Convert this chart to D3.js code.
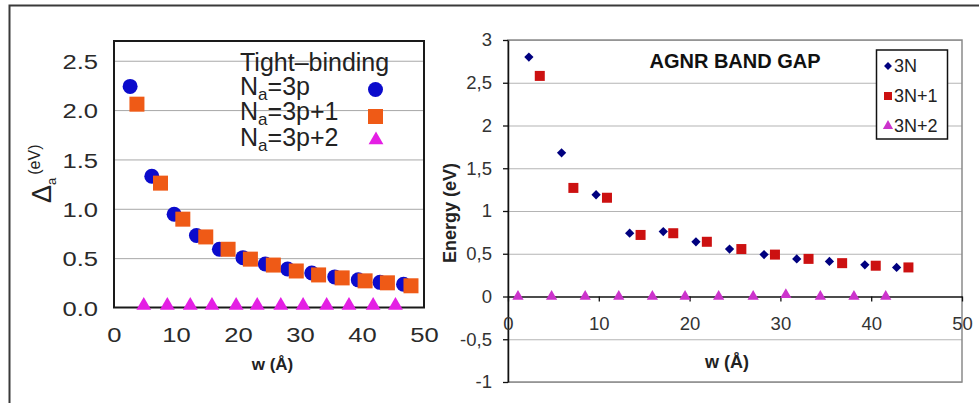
<!DOCTYPE html>
<html>
<head>
<meta charset="utf-8">
<script src="https://cdn.jsdelivr.net/npm/d3@7/dist/d3.min.js"></script>
<style>
  html, body { margin: 0; padding: 0; background: #fff; }
  svg { display: block; font-family: "Liberation Sans", Arial, Helvetica, sans-serif; }
</style>
</head>
<body>
<svg id="chart" width="979" height="403"></svg>
<script>
// ---- Tight-binding band gap (left panel) ----
const wTB3p   = [2.6, 6.1, 9.7, 13.3, 17.0, 20.8, 24.4, 28.0, 31.9, 35.6, 39.4, 42.9, 46.7];
const gapTB3p = [2.24, 1.33, 0.945, 0.73, 0.59, 0.505, 0.44, 0.39, 0.35, 0.31, 0.28, 0.255, 0.235];
const wTB3p1   = [3.7, 7.5, 11.1, 14.8, 18.4, 22.0, 25.7, 29.4, 33.0, 36.8, 40.5, 44.1, 47.9];
const gapTB3p1 = [2.06, 1.26, 0.895, 0.715, 0.59, 0.49, 0.43, 0.37, 0.33, 0.30, 0.27, 0.25, 0.22];
const wTB3p2   = [4.8, 8.6, 12.3, 15.8, 19.7, 23.1, 26.9, 30.5, 34.3, 37.9, 41.8, 45.4];
const gapTB3p2 = [0, 0, 0, 0, 0, 0, 0, 0, 0, 0, 0, 0];
const leftYTicks = [0, 0.5, 1.0, 1.5, 2.0, 2.5];
const leftXTicks = [0, 10, 20, 30, 40, 50];

// ---- AGNR band gap (right panel) ----
const w3N  = [2.3, 5.9, 9.7, 13.4, 17.1, 20.7, 24.4, 28.2, 31.8, 35.4, 39.3, 42.8];
const E3N  = [2.80, 1.68, 1.19, 0.74, 0.76, 0.64, 0.555, 0.49, 0.44, 0.41, 0.37, 0.34];
const w3N1 = [3.5, 7.2, 10.9, 14.6, 18.2, 21.9, 25.7, 29.4, 33.1, 36.8, 40.5, 44.1];
const E3N1 = [2.58, 1.27, 1.155, 0.72, 0.74, 0.64, 0.555, 0.49, 0.44, 0.39, 0.36, 0.34];
const w3N2 = [1.1, 4.8, 8.5, 12.2, 15.9, 19.5, 23.2, 27.0, 30.6, 34.4, 38.1, 41.6];
const E3N2 = [0, 0, 0, 0, 0, 0, 0, 0, 0.02, 0, 0, 0];
const rightYTicks = [-1, -0.5, 0, 0.5, 1, 1.5, 2, 2.5, 3];
const rightXTicks = [0, 10, 20, 30, 40, 50];

const svg = d3.select("#chart");
const zip = (xs, ys) => xs.map((x, i) => [x, ys[i]]);
const WIDE = 1.22; // horizontal stretch of the left panel's tick digits

// outer frame (left and top edges)
svg.append("path").attr("d", "M9.5,403 V5.5 H979")
  .attr("fill", "none").attr("stroke", "#3a3a3a").attr("stroke-width", 2);

// ===================== LEFT PANEL =====================
const L = { x0: 114, x1: 424, y0: 307.5, y1: 41 };
const xL = d3.scaleLinear().domain([0, 50]).range([L.x0, L.x1]);
const yL = d3.scaleLinear().domain([0, 2.7]).range([L.y0, L.y1]);
const gL = svg.append("g");

// horizontal grid
gL.append("g")
  .attr("transform", `translate(${L.x0},0)`)
  .call(d3.axisLeft(yL).tickValues(leftYTicks.filter(v => v > 0)).tickSize(-(L.x1 - L.x0)).tickFormat(""))
  .call(g => g.select(".domain").remove())
  .call(g => g.selectAll("line").attr("stroke", "#a8a8a8").attr("stroke-width", 1));

// tick labels
gL.append("g")
  .attr("transform", `translate(${L.x0},0)`)
  .call(d3.axisLeft(yL).tickValues(leftYTicks).tickSize(0).tickPadding(0).tickFormat(d3.format(".1f")))
  .call(g => g.select(".domain").remove())
  .call(g => g.selectAll("text")
    .attr("x", -16 / WIDE).attr("dy", "0.36em")
    .attr("transform", `scale(${WIDE},1)`)
    .attr("fill", "#2a2a2a").style("font-size", "21px"));

gL.append("g")
  .attr("transform", `translate(0,${L.y0})`)
  .call(d3.axisBottom(xL).tickValues(leftXTicks).tickSize(0).tickPadding(0).tickFormat(d3.format("d")))
  .call(g => g.select(".domain").remove())
  .call(g => g.selectAll("text")
    .attr("y", 35).attr("dy", 0)
    .attr("transform", `scale(${WIDE},1)`)
    .attr("fill", "#2a2a2a").style("font-size", "21px"));

// frame
gL.append("rect")
  .attr("x", L.x0).attr("y", L.y1).attr("width", L.x1 - L.x0).attr("height", L.y0 - L.y1)
  .attr("fill", "none").attr("stroke", "#1a1a1a").attr("stroke-width", 2);

// data
const blueL = "#0b0bcc", orangeL = "#ef5a16", magL = "#e41fe4";
gL.append("g").selectAll("circle").data(zip(wTB3p, gapTB3p)).join("circle")
  .attr("cx", d => xL(d[0])).attr("cy", d => yL(d[1])).attr("r", 7.5).attr("fill", blueL);
gL.append("g").selectAll("rect").data(zip(wTB3p1, gapTB3p1)).join("rect")
  .attr("x", d => xL(d[0]) - 7.5).attr("y", d => yL(d[1]) - 7.5)
  .attr("width", 15).attr("height", 15).attr("fill", orangeL);
const triL = d3.symbol().type(d3.symbolTriangle).size(95);
gL.append("g").selectAll("path").data(zip(wTB3p2, gapTB3p2)).join("path")
  .attr("transform", d => `translate(${xL(d[0])},${yL(d[1]) - 2})`)
  .attr("d", triL).attr("fill", magL);

// legend
const legL = gL.append("g").attr("fill", "#222").style("font-size", "25px");
legL.append("text").attr("x", 240).attr("y", 71).text("Tight\u2013binding");
const legRows = [
  { y: 95, label: "=3p" },
  { y: 120, label: "=3p+1" },
  { y: 146, label: "=3p+2" }
];
legRows.forEach(r => {
  const t = legL.append("text").attr("x", 240).attr("y", r.y);
  t.append("tspan").text("N");
  t.append("tspan").attr("dy", 5).style("font-size", "17px").text("a");
  t.append("tspan").attr("dy", -5).text(r.label);
});
legL.append("circle").attr("cx", 375.5).attr("cy", 89.5).attr("r", 7.5).attr("fill", blueL);
legL.append("rect").attr("x", 368).attr("y", 109).attr("width", 15).attr("height", 15).attr("fill", orangeL);
legL.append("path").attr("transform", "translate(376,140)").attr("d", triL).attr("fill", magL);

// axis titles
const yTitleL = gL.append("text")
  .attr("transform", "translate(51,203) rotate(-90)")
  .attr("fill", "#222");
yTitleL.append("tspan").style("font-size", "27px").text("\u0394");
yTitleL.append("tspan").attr("dy", 5).style("font-size", "13px").text("a");
yTitleL.append("tspan").attr("dx", 3).attr("dy", -16).style("font-size", "16px").text("(eV)");

gL.append("text").attr("x", 272.5).attr("y", 370).attr("text-anchor", "middle")
  .style("font-size", "17px").style("font-weight", "bold").attr("fill", "#222").text("w (\u00c5)");

// ===================== RIGHT PANEL =====================
const R = { x0: 508, x1: 962, y0: 382, y1: 40 };
const xR = d3.scaleLinear().domain([0, 50]).range([R.x0, R.x1]);
const yR = d3.scaleLinear().domain([-1, 3]).range([R.y0, R.y1]);
const gR = svg.append("g");

// grid lines
gR.append("g")
  .attr("transform", `translate(${R.x0},0)`)
  .call(d3.axisLeft(yR).tickValues(rightYTicks.filter(v => v !== 0)).tickSize(-(R.x1 - R.x0)).tickFormat(""))
  .call(g => g.select(".domain").remove())
  .call(g => g.selectAll("line").attr("stroke", "#b4b4b4").attr("stroke-width", 1.2));

// plot border
gR.append("rect")
  .attr("x", R.x0).attr("y", R.y1).attr("width", R.x1 - R.x0).attr("height", R.y0 - R.y1)
  .attr("fill", "none").attr("stroke", "#8a8a8a").attr("stroke-width", 1.5);

// y axis
const fmtComma = d => String(d).replace(".", ",");
gR.append("g")
  .attr("transform", `translate(${R.x0},0)`)
  .call(d3.axisLeft(yR).tickValues(rightYTicks).tickSize(5).tickPadding(11).tickSizeOuter(0).tickFormat(fmtComma))
  .call(g => g.select(".domain").attr("stroke", "#111").attr("stroke-width", 1.5))
  .call(g => g.selectAll("line").attr("stroke", "#111").attr("stroke-width", 1.3))
  .call(g => g.selectAll("text").attr("fill", "#333").style("font-size", "18.5px"));

// x axis along zero
gR.append("g")
  .attr("transform", `translate(0,${yR(0)})`)
  .call(d3.axisBottom(xR).tickValues(rightXTicks).tickSize(5).tickPadding(0).tickSizeOuter(0).tickFormat(d3.format("d")))
  .call(g => g.select(".domain").attr("stroke", "#111").attr("stroke-width", 1.5))
  .call(g => g.selectAll("line").attr("stroke", "#111").attr("stroke-width", 1.3))
  .call(g => g.selectAll("text").attr("y", 33).attr("dy", 0).attr("fill", "#333").style("font-size", "18.5px"));

// data
const blueR = "#00007f", redR = "#cc1111", magR = "#cc33cc";
const diamond = d3.symbol().type(d3.symbolDiamond2).size(55);
const triR = d3.symbol().type(d3.symbolTriangle).size(55);
gR.append("g").selectAll("path").data(zip(w3N, E3N)).join("path")
  .attr("transform", d => `translate(${xR(d[0])},${yR(d[1])})`)
  .attr("d", diamond).attr("fill", blueR);
gR.append("g").selectAll("rect").data(zip(w3N1, E3N1)).join("rect")
  .attr("x", d => xR(d[0]) - 5).attr("y", d => yR(d[1]) - 5)
  .attr("width", 10).attr("height", 10).attr("fill", redR);
gR.append("g").selectAll("path").data(zip(w3N2, E3N2)).join("path")
  .attr("transform", d => `translate(${xR(d[0])},${yR(d[1])})`)
  .attr("d", triR).attr("fill", magR);

// title
gR.append("text").attr("x", 735).attr("y", 68).attr("text-anchor", "middle")
  .style("font-size", "20px").style("font-weight", "bold").attr("fill", "#111").text("AGNR BAND GAP");

// legend
const legR = gR.append("g");
legR.append("rect").attr("x", 876.5).attr("y", 50).attr("width", 71).attr("height", 89)
  .attr("fill", "#fff").attr("stroke", "#111").attr("stroke-width", 1.5);
const legItems = [
  { y: 66, label: "3N" },
  { y: 96, label: "3N+1" },
  { y: 126, label: "3N+2" }
];
legR.append("path").attr("transform", `translate(888,${legItems[0].y})`)
  .attr("d", d3.symbol().type(d3.symbolDiamond2).size(40)).attr("fill", blueR);
legR.append("rect").attr("x", 884).attr("y", legItems[1].y - 4).attr("width", 8).attr("height", 8).attr("fill", redR);
legR.append("path").attr("transform", `translate(888,${legItems[2].y})`)
  .attr("d", d3.symbol().type(d3.symbolTriangle).size(45)).attr("fill", magR);
legItems.forEach(it => {
  legR.append("text").attr("x", 894).attr("y", it.y).attr("dy", "0.36em")
    .style("font-size", "18px").attr("fill", "#222").text(it.label);
});

// axis titles
gR.append("text").attr("transform", "translate(456,213) rotate(-90)").attr("text-anchor", "middle")
  .style("font-size", "18px").style("font-weight", "bold").attr("fill", "#222").text("Energy (eV)");
gR.append("text").attr("x", 727).attr("y", 368).attr("text-anchor", "middle")
  .style("font-size", "18px").style("font-weight", "bold").attr("fill", "#222").text("w (\u00c5)");
</script>
</body>
</html>
